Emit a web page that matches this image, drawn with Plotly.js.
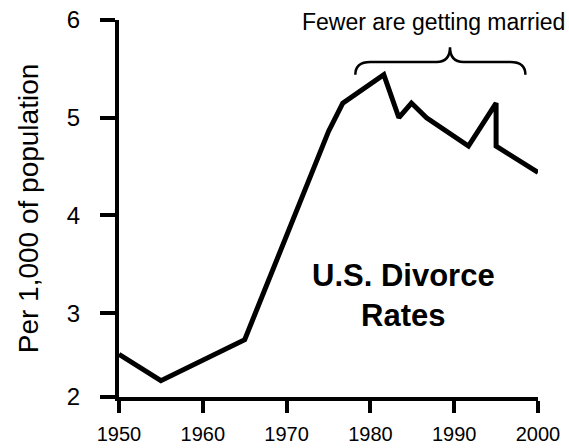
<!DOCTYPE html>
<html>
<head>
<meta charset="utf-8">
<script src="https://cdn.plot.ly/plotly-3.0.1.min.js"></script>
<style>html,body{margin:0;padding:0;background:#fff;}#chart{width:569px;height:448px;}</style>
</head>
<body>
<div id="chart"></div>
<script>
// Data
const years = [1950, 1955, 1965, 1975, 1976.7, 1981.6, 1983.4, 1984.9, 1986.7, 1991.7, 1995, 1995, 2000];
const rates = [2.58, 2.31, 2.73, 4.86, 5.15, 5.44, 5.00, 5.15, 5.00, 4.71, 5.15, 4.71, 4.44];
const xTickVals = [1950, 1960, 1970, 1980, 1990, 2000];
const xTickText = ["1950", "1960", "1970", "1980", "1990", "2000"];
const yTickVals = [2.143, 3, 4, 5, 6];
const yTickText = ["2", "3", "4", "5", "6"];
const chartTitle = "U.S. Divorce<br>Rates";
const yTitle = "Per 1,000 of population";
const braceLabel = "Fewer are getting married";
const braceStart = 1978.2, braceMid = 1989.5, braceEnd = 1998.5;

const font = "Liberation Sans, Arial, sans-serif";

const trace = {
  x: years, y: rates, type: "scatter", mode: "lines",
  line: {color: "#000", width: 5, shape: "linear"},
  hoverinfo: "skip"
};

const bLow = 5.44, bH = 5.57, bTop = 5.72;
const bracePath =
  `M ${braceStart},${bLow} Q ${braceStart},${bH} ${braceStart+1.8},${bH} ` +
  `L ${braceMid-1.6},${bH} Q ${braceMid},${bH} ${braceMid},${bTop} ` +
  `Q ${braceMid},${bH} ${braceMid+1.6},${bH} ` +
  `L ${braceEnd-1.8},${bH} Q ${braceEnd},${bH} ${braceEnd},${bLow}`;

const layout = {
  width: 569, height: 448,
  margin: {l: 119, r: 31, t: 20, b: 51},
  paper_bgcolor: "#fff", plot_bgcolor: "#fff",
  showlegend: false,
  font: {family: font, color: "#000", size: 18},
  xaxis: {
    range: [1950, 2000], tickvals: xTickVals, ticktext: xTickText,
    showgrid: false, zeroline: false, showline: true, linecolor: "#000", linewidth: 4,
    ticks: "outside", ticklen: 12, tickwidth: 4, tickcolor: "#000",
    ticklabelstandoff: 4,
    tickfont: {family: font, size: 20, color: "#000"}
  },
  yaxis: {
    range: [2.143, 6], tickvals: yTickVals, ticktext: yTickText,
    showgrid: false, zeroline: false, showline: true, linecolor: "#000", linewidth: 4,
    ticks: "outside", ticklen: 15, tickwidth: 4, tickcolor: "#000",
    ticklabelstandoff: 15,
    tickfont: {family: font, size: 24, color: "#000"},
    title: {text: yTitle, font: {family: font, size: 28, color: "#000"}, standoff: 21}
  },
  shapes: [{
    type: "path", xref: "x", yref: "y", path: bracePath,
    line: {color: "#000", width: 2.5}
  }],
  annotations: [
    {x: 1987.5, y: 5.975, xref: "x", yref: "y", text: braceLabel, showarrow: false,
     xanchor: "center", yanchor: "middle", font: {family: font, size: 23, color: "#000"}},
    {x: 1984.0, y: 3.186, xref: "x", yref: "y", text: "<b>" + chartTitle + "</b>", showarrow: false,
     xanchor: "center", yanchor: "middle", font: {family: font, size: 31, color: "#000"}}
  ]
};

Plotly.newPlot("chart", [trace], layout, {staticPlot: true, displayModeBar: false});
</script>
</body>
</html>
